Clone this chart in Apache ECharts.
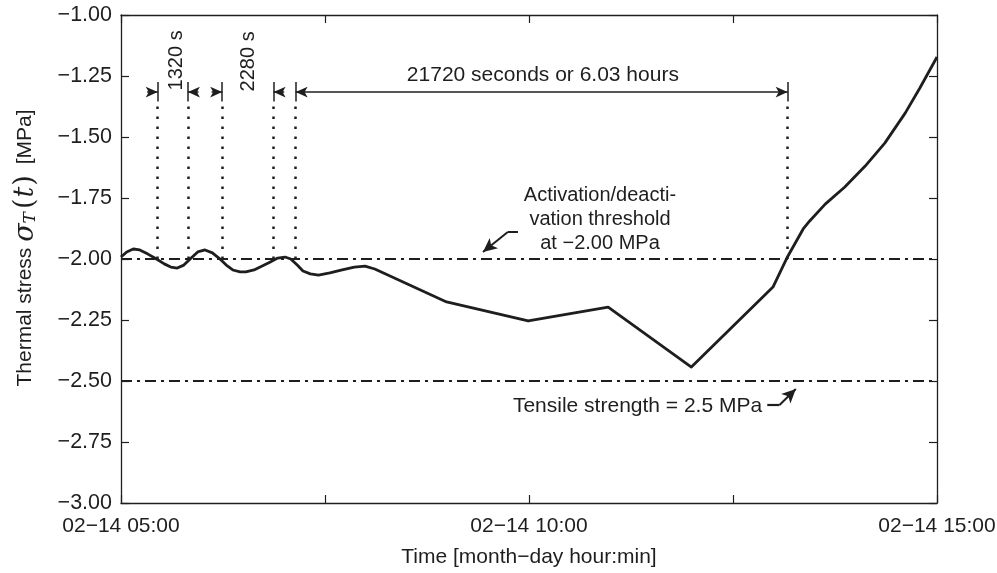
<!DOCTYPE html>
<html>
<head>
<meta charset="utf-8">
<script src="https://cdn.jsdelivr.net/npm/echarts@6/dist/echarts.min.js"></script>
<style>
html,body{margin:0;padding:0;background:#fff;}
#main{width:997px;height:573px;}
</style>
</head>
<body>
<div id="main"></div>
<script>
// ---- data (time in decimal hours on 02-14, stress in MPa) ----
var timeHours = [5.00,5.07,5.15,5.23,5.33,5.43,5.53,5.61,5.69,5.77,5.86,5.94,6.03,6.12,6.20,6.29,6.37,6.46,6.53,6.63,6.73,6.83,6.92,7.01,7.08,7.16,7.23,7.32,7.42,7.56,7.71,7.86,7.99,8.11,8.99,9.99,10.97,11.99,12.99,13.16,13.36,13.44,13.63,13.87,14.12,14.36,14.61,14.79,15.00];
var stressMPa = [-1.992,-1.971,-1.959,-1.963,-1.980,-1.999,-2.020,-2.033,-2.037,-2.025,-1.996,-1.971,-1.963,-1.975,-1.996,-2.025,-2.045,-2.053,-2.053,-2.045,-2.029,-2.012,-1.996,-1.992,-2.000,-2.025,-2.049,-2.061,-2.066,-2.057,-2.045,-2.033,-2.029,-2.041,-2.176,-2.254,-2.197,-2.443,-2.115,-1.996,-1.877,-1.844,-1.775,-1.705,-1.619,-1.525,-1.402,-1.299,-1.172];
var crossingHours = [5.45, 5.82, 6.24, 6.87, 7.14, 13.17];
var thresholdLevels = [-2.00, -2.50];
var xTickHours = [5, 10, 15];
var intervalLabels = ['1320 s', '2280 s', '21720 seconds or 6.03 hours'];

// ---- presentation ----
var FONT = "'Liberation Sans', Arial, sans-serif";
var INK = '#1e1e1e';
var ARROW_Y = -1.316, BAR_TOP = -1.275, BAR_BOT = -1.355, DOT_TOP = -1.35;
var SHAFT = 0.13;

function fmtMinus(v){ return v.toFixed(2).replace('-', '\u2212'); }
function pad(n){ return (n < 10 ? '0' : '') + n; }

var seriesData = timeHours.map(function(t, i){ return [t, stressMPa[i]]; });

var ml = [];
thresholdLevels.forEach(function(lv){
  ml.push({ yAxis: lv, lineStyle: { type: [11,5,3,5], width: 2, color: INK } });
});
crossingHours.forEach(function(c){
  ml.push([{ coord: [c, thresholdLevels[0]], lineStyle: { type: [2.5,7.5], width: 2.5, color: INK } }, { coord: [c, DOT_TOP] }]);
  ml.push([{ coord: [c, BAR_BOT], lineStyle: { type: 'solid', width: 1.5, color: INK } }, { coord: [c, BAR_TOP] }]);
});
function arrow(x0, y0, x1, y1, both){
  return [{ coord: [x0, y0], symbol: both ? 'arrow' : 'none', symbolSize: [8, 12], lineStyle: { type: 'solid', width: 1.5, color: INK } },
          { coord: [x1, y1], symbol: 'arrow', symbolSize: [8, 12] }];
}
ml.push(arrow(crossingHours[0] - SHAFT, ARROW_Y, crossingHours[0], ARROW_Y));
ml.push(arrow(crossingHours[1] + SHAFT, ARROW_Y, crossingHours[1], ARROW_Y));
ml.push(arrow(crossingHours[2] - SHAFT, ARROW_Y, crossingHours[2], ARROW_Y));
ml.push(arrow(crossingHours[3] + SHAFT, ARROW_Y, crossingHours[3], ARROW_Y));
ml.push(arrow(crossingHours[4], ARROW_Y, crossingHours[5], ARROW_Y, true));
// annotation pointers
ml.push([{ coord: [9.865, -1.889], symbol: 'none', lineStyle: { type: 'solid', width: 2, color: INK } }, { coord: [9.74, -1.889], symbol: 'none' }]);
ml.push([{ coord: [9.74, -1.889], symbol: 'none', lineStyle: { type: 'solid', width: 2, color: INK } }, { coord: [9.436, -1.971], symbol: 'arrow', symbolSize: [10, 14] }]);
ml.push([{ coord: [12.92, -2.598], symbol: 'none', lineStyle: { type: 'solid', width: 2.2, color: INK } }, { coord: [13.07, -2.598], symbol: 'none' }]);
ml.push([{ coord: [13.07, -2.598], symbol: 'none', lineStyle: { type: 'solid', width: 2, color: INK } }, { coord: [13.27, -2.533], symbol: 'arrow', symbolSize: [10, 14] }]);

var chart = echarts.init(document.getElementById('main'), null, { renderer: 'canvas' });

var axisCommonX = {
  type: 'value', min: 5, max: 15, interval: 2.5,
  axisLine: { show: true, lineStyle: { color: INK, width: 1.3 } },
  axisTick: { show: true, inside: true, length: 8, lineStyle: { color: INK, width: 1.2 } },
  splitLine: { show: false }
};
var axisCommonY = {
  type: 'value', min: -3, max: -1, interval: 0.25,
  axisLine: { show: true, onZero: false, lineStyle: { color: INK, width: 1.3 } },
  axisTick: { show: true, inside: true, length: 8, lineStyle: { color: INK, width: 1.2 } },
  splitLine: { show: false }
};

var option = {
  animation: false,
  backgroundColor: '#fff',
  grid: { left: 121, right: 60, top: 15, bottom: 70, containLabel: false, outerBoundsMode: 'none' },
  xAxis: [
    Object.assign({}, axisCommonX, {
      position: 'bottom',
      axisLabel: {
        fontFamily: FONT, fontSize: 21, color: INK, margin: 13,
        formatter: function(v){ return xTickHours.indexOf(v) >= 0 ? '02\u221214 ' + pad(v) + ':00' : ''; }
      },
      name: 'Time [month\u2212day hour:min]', nameLocation: 'middle', nameGap: 44,
      nameTextStyle: { fontFamily: FONT, fontSize: 21, color: INK }
    }),
    Object.assign({}, axisCommonX, { position: 'top', axisLabel: { show: false } })
  ],
  yAxis: [
    Object.assign({}, axisCommonY, {
      position: 'left',
      axisLabel: { fontFamily: FONT, fontSize: 21.5, color: INK, margin: 9, formatter: fmtMinus },
      name: 'Thermal stress {m|\u03c3}{sub|T}{p|(}{m|t}{p|)} {r|[MPa]}',
      nameLocation: 'middle', nameGap: 82,
      nameTextStyle: {
        fontFamily: FONT, fontSize: 21, color: INK, padding: [0, 0, 0, 22],
        rich: {
          m: { fontFamily: "'DejaVu Serif', serif", fontStyle: 'italic', fontSize: 27, color: INK },
          sub: { fontFamily: "'DejaVu Serif', serif", fontStyle: 'italic', fontSize: 17, color: INK, verticalAlign: 'bottom', padding: [10, 2, 0, 0] },
          p: { fontFamily: "'DejaVu Serif', serif", fontSize: 27, color: INK, padding: [0, 1, 0, 1] },
          r: { fontFamily: FONT, fontSize: 21, color: INK, padding: [0, 0, 0, 4] }
        }
      }
    }),
    Object.assign({}, axisCommonY, { position: 'right', axisLabel: { show: false } })
  ],
  series: [{
    type: 'line', xAxisIndex: 0, yAxisIndex: 0,
    data: seriesData, showSymbol: false, symbol: 'none',
    lineStyle: { color: INK, width: 2.8, join: 'round' },
    z: 5,
    markLine: { silent: true, symbol: 'none', label: { show: false }, animation: false, data: ml }
  }]
};
chart.setOption(option);

function px(x, y){ return chart.convertToPixel({ xAxisIndex: 0, yAxisIndex: 0 }, [x, y]); }
var texts = [
  { pos: [5.68, -1.186], text: intervalLabels[0], rot: Math.PI / 2, size: 20 },
  { pos: [6.56, -1.19], text: intervalLabels[1], rot: Math.PI / 2, size: 20 },
  { pos: [10.17, -1.246], text: intervalLabels[2], rot: 0, size: 21 },
  { pos: [10.87, -1.840], text: 'Activation/deacti-\nvation threshold\nat \u22122.00 MPa', rot: 0, size: 20 },
  { pos: [11.33, -2.602], text: 'Tensile strength = 2.5 MPa', rot: 0, size: 21 }
];
chart.setOption({
  graphic: texts.map(function(t){
    var p = px(t.pos[0], t.pos[1]);
    return {
      type: 'text', x: p[0], y: p[1], rotation: t.rot, z: 10,
      style: { text: t.text, fontFamily: FONT, fontSize: t.size, fill: INK, align: 'center', verticalAlign: 'middle', lineHeight: 24 }
    };
  })
});
</script>
</body>
</html>
